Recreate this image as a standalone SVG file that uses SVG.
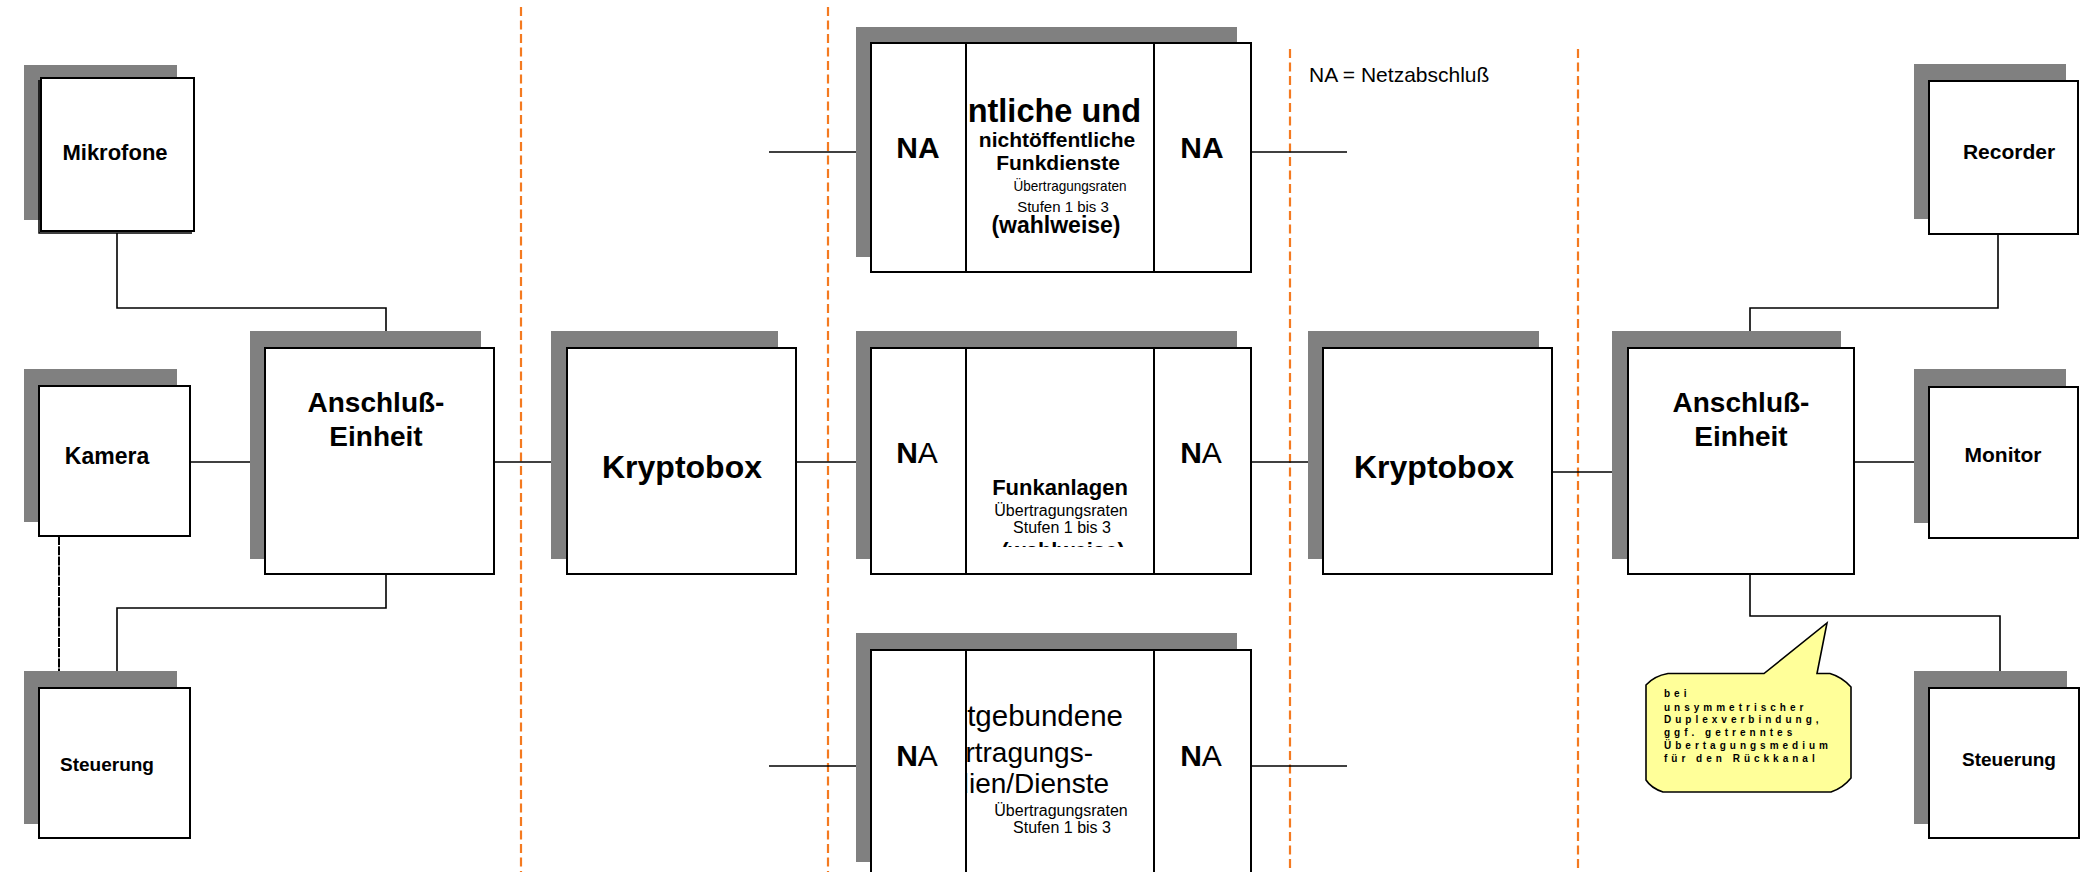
<svg xmlns="http://www.w3.org/2000/svg" width="2093" height="872" viewBox="0 0 2093 872">
<style>
.sh{fill:#808080;stroke:none}
.bx{fill:#fff;stroke:#000;stroke-width:2}
.cn{fill:none;stroke:#000;stroke-width:1.6}
.dl{fill:none;stroke:#F47A20;stroke-width:2.2;stroke-dasharray:9 4.5}
.b{font-family:"Liberation Sans",Arial,sans-serif;font-weight:bold;fill:#000}
.r{font-family:"Liberation Sans",Arial,sans-serif;font-weight:normal;fill:#000}
.m{text-anchor:middle}
.e{text-anchor:end}
</style>
<defs>
<clipPath id="clipTop"><rect x="965" y="44" width="188" height="227"/></clipPath>
<clipPath id="clipMid"><rect x="967" y="348" width="186" height="199"/></clipPath>
<clipPath id="clipBot"><rect x="967" y="650" width="186" height="222"/></clipPath>
</defs>
<rect width="2093" height="872" fill="#fff"/>

<g id="dividers">
<line class="dl" x1="521" y1="7" x2="521" y2="872"/>
<line class="dl" x1="828" y1="7" x2="828" y2="872"/>
<line class="dl" x1="1290" y1="49" x2="1290" y2="872"/>
<line class="dl" x1="1578" y1="49" x2="1578" y2="872"/>
</g>

<g id="connectors">
<polyline class="cn" points="117,233 117,308 386,308 386,331"/>
<line class="cn" x1="191" y1="462" x2="250" y2="462"/>
<line x1="59" y1="536" x2="59" y2="686" stroke="#000" stroke-width="2" stroke-dasharray="9 1.2"/>
<polyline class="cn" points="386,574 386,608 117,608 117,671"/>
<line class="cn" x1="494" y1="462" x2="551" y2="462"/>
<line class="cn" x1="796" y1="462" x2="856" y2="462"/>
<line class="cn" x1="769" y1="152" x2="866" y2="152"/>
<line class="cn" x1="1250" y1="152" x2="1347" y2="152"/>
<line class="cn" x1="769" y1="766" x2="866" y2="766"/>
<line class="cn" x1="1250" y1="766" x2="1347" y2="766"/>
<line class="cn" x1="1250" y1="462" x2="1308" y2="462"/>
<line class="cn" x1="1552" y1="472" x2="1612" y2="472"/>
<polyline class="cn" points="1750,348 1750,308 1998,308 1998,234"/>
<line class="cn" x1="1854" y1="462" x2="1920" y2="462"/>
<polyline class="cn" points="1750,574 1750,616 2000,616 2000,671"/>
</g>

<g id="mikrofone">
<rect class="sh" x="24" y="65" width="153" height="155"/>
<rect class="bx" x="41" y="78" width="153" height="153"/>
<polyline fill="none" stroke="#000" stroke-width="1.5" points="39,80 39,233 192,233"/>
<text class="b m" x="115" y="160" font-size="22">Mikrofone</text>
</g>

<g id="kamera">
<rect class="sh" x="24" y="369" width="153" height="153"/>
<rect class="bx" x="39" y="386" width="151" height="150"/>
<text class="b m" x="107" y="464" font-size="23">Kamera</text>
</g>

<g id="steuerung-left">
<rect class="sh" x="24" y="671" width="153" height="153"/>
<rect class="bx" x="39" y="688" width="151" height="150"/>
<text class="b m" x="107" y="771" font-size="19">Steuerung</text>
</g>

<g id="anschluss-left">
<rect class="sh" x="250" y="331" width="231" height="228"/>
<rect class="bx" x="265" y="348" width="229" height="226"/>
<text class="b m" x="376" y="412" font-size="28">Anschluß-</text>
<text class="b m" x="376" y="446" font-size="28">Einheit</text>
</g>

<g id="kryptobox-left">
<rect class="sh" x="551" y="331" width="227" height="228"/>
<rect class="bx" x="567" y="348" width="229" height="226"/>
<text class="b m" x="682" y="478" font-size="32">Kryptobox</text>
</g>

<g id="funkdienste">
<rect class="sh" x="856" y="27" width="381" height="230"/>
<rect class="bx" x="871" y="43" width="380" height="229"/>
<rect class="bx" x="871" y="43" width="95" height="229"/>
<g clip-path="url(#clipTop)">
<text class="b e" x="1141" y="122" font-size="32.5">öffentliche und</text>
<text class="b m" x="1057" y="147" font-size="21">nichtöffentliche</text>
<text class="b m" x="1058" y="170" font-size="21">Funkdienste</text>
<text class="r m" x="1070" y="191" font-size="15" textLength="113" lengthAdjust="spacingAndGlyphs">Übertragungsraten</text>
<text class="r m" x="1063" y="212" font-size="15">Stufen 1 bis 3</text>
<text class="b m" x="1056" y="233" font-size="23">(wahlweise)</text>
</g>
<rect class="bx" x="1154" y="43" width="97" height="229"/>
<text class="b m" x="918" y="158" font-size="30">NA</text>
<text class="b m" x="1202" y="158" font-size="30">NA</text>
</g>

<g id="funkanlagen">
<rect class="sh" x="856" y="331" width="381" height="228"/>
<rect class="bx" x="871" y="348" width="380" height="226"/>
<g clip-path="url(#clipMid)">
<text class="b m" x="1060" y="495" font-size="22">Funkanlagen</text>
<text class="r m" x="1061" y="516" font-size="16">Übertragungsraten</text>
<text class="r m" x="1062" y="533" font-size="16">Stufen 1 bis 3</text>
<text class="b m" x="1063" y="558" font-size="22">(wahlweise)</text>
</g>
<rect class="bx" x="871" y="348" width="95" height="226"/>
<rect class="bx" x="1154" y="348" width="97" height="226"/>
<text class="m" x="917" y="463" font-size="30"><tspan class="b">N</tspan><tspan class="r">A</tspan></text>
<text class="m" x="1201" y="463" font-size="30"><tspan class="b">N</tspan><tspan class="r">A</tspan></text>
</g>

<g id="leitgebunden">
<rect class="sh" x="856" y="633" width="381" height="229"/>
<rect class="bx" x="871" y="650" width="380" height="240"/>
<g clip-path="url(#clipBot)">
<text class="r e" x="1123" y="726" font-size="29.5">leitgebundene</text>
<text class="r e" x="1093" y="762" font-size="28">Übertragungs-</text>
<text class="r e" x="1109" y="793" font-size="28">medien/Dienste</text>
<text class="r m" x="1061" y="816" font-size="16">Übertragungsraten</text>
<text class="r m" x="1062" y="833" font-size="16">Stufen 1 bis 3</text>
</g>
<rect class="bx" x="871" y="650" width="95" height="240"/>
<rect class="bx" x="1154" y="650" width="97" height="240"/>
<text class="m" x="917" y="766" font-size="30"><tspan class="b">N</tspan><tspan class="r">A</tspan></text>
<text class="m" x="1201" y="766" font-size="30"><tspan class="b">N</tspan><tspan class="r">A</tspan></text>
</g>

<g id="legende">
<text class="r" x="1309" y="82" font-size="21">NA = Netzabschluß</text>
</g>

<g id="kryptobox-right">
<rect class="sh" x="1308" y="331" width="231" height="228"/>
<rect class="bx" x="1323" y="348" width="229" height="226"/>
<text class="b m" x="1434" y="478" font-size="32">Kryptobox</text>
</g>

<g id="anschluss-right">
<rect class="sh" x="1612" y="331" width="229" height="228"/>
<rect class="bx" x="1628" y="348" width="226" height="226"/>
<text class="b m" x="1741" y="412" font-size="28">Anschluß-</text>
<text class="b m" x="1741" y="446" font-size="28">Einheit</text>
</g>

<g id="recorder">
<rect class="sh" x="1914" y="64" width="152" height="155"/>
<rect class="bx" x="1929" y="81" width="149" height="153"/>
<text class="b m" x="2009" y="159" font-size="21">Recorder</text>
</g>

<g id="monitor">
<rect class="sh" x="1914" y="369" width="152" height="154"/>
<rect class="bx" x="1929" y="387" width="149" height="151"/>
<text class="b m" x="2003" y="462" font-size="21">Monitor</text>
</g>

<g id="steuerung-right">
<rect class="sh" x="1914" y="671" width="153" height="153"/>
<rect class="bx" x="1929" y="688" width="150" height="150"/>
<text class="b m" x="2009" y="766" font-size="19">Steuerung</text>
</g>

<g id="callout">
<path d="M1668,673.5 L1764,673.5 L1827,623 L1817,673.5 L1830,673.5 Q1842,677 1851,687 L1851,778 Q1843,788 1831,792 L1663,792 Q1651,788 1646,780 L1646,685 Q1654,676 1668,673.5 Z" fill="#FFFF99" stroke="#000" stroke-width="1.6"/>
<g class="b" font-size="10" letter-spacing="4">
<text x="1664" y="697">bei</text>
<text x="1664" y="711">unsymmetrischer</text>
<text x="1664" y="723">Duplexverbindung,</text>
<text x="1664" y="736">ggf. getrenntes</text>
<text x="1664" y="749">Übertagungsmedium</text>
<text x="1664" y="762">für den Rückkanal</text>
</g>
</g>
</svg>
